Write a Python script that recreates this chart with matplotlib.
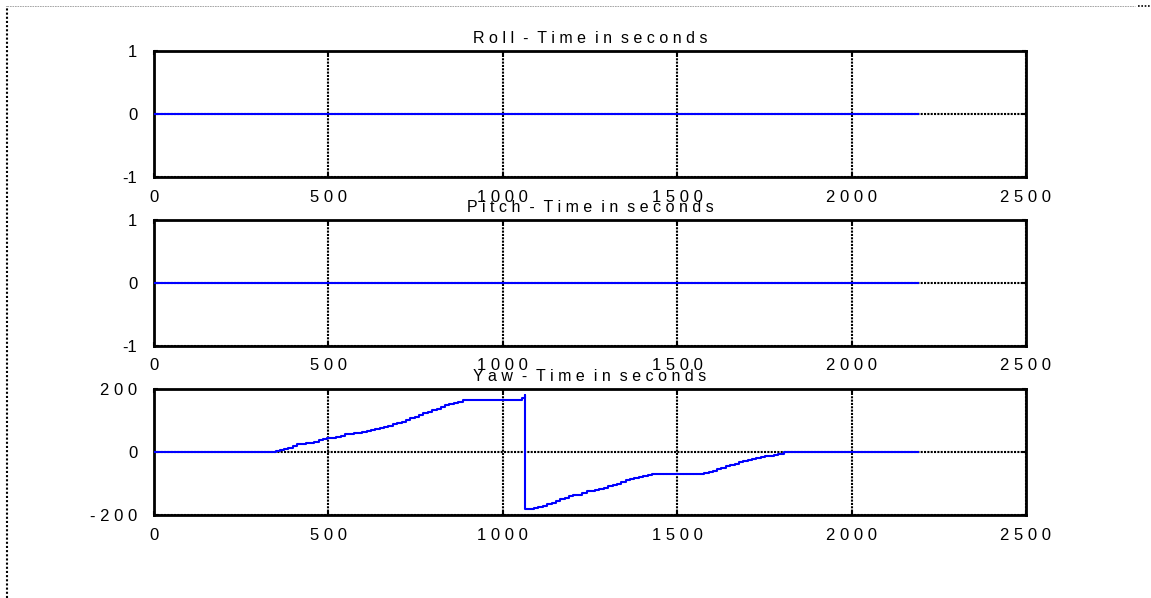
import numpy as np
import matplotlib
matplotlib.use('Agg')
import matplotlib.pyplot as plt
from matplotlib.lines import Line2D

plt.rcParams['font.family'] = ['Liberation Sans', 'DejaVu Sans']

# data
t_end = 2190
roll_t = [0, t_end]
roll_v = [0, 0]
pitch_t = [0, t_end]
pitch_v = [0, 0]

yaw_t = [0, 340, 350, 360, 372, 385, 398, 410, 422, 435, 447, 460, 472, 485, 497,
         510, 522, 535, 547, 560, 572, 585, 597, 610, 622, 635, 647, 660, 672,
         685, 697, 710, 722, 735, 747, 760, 772, 785, 797, 810, 822, 835, 847,
         860, 872, 885, 1040, 1055, 1064, 1065,
         1077, 1090, 1102, 1115, 1127, 1140, 1152, 1165, 1177, 1190, 1202, 1215,
         1227, 1240, 1252, 1265, 1277, 1290, 1302, 1315, 1327, 1340, 1352, 1365,
         1377, 1390, 1402, 1415, 1427, 1440, 1565, 1577, 1590, 1602, 1615, 1627,
         1640, 1652, 1665, 1677, 1690, 1702, 1715, 1727, 1740, 1752, 1765, 1777,
         1790, 1805, t_end]
yaw_v = [0, 0, 4, 6, 8, 12, 20, 24, 26, 28, 30, 33, 37, 40, 43,
         45, 48, 52, 56, 58, 59, 60, 63, 66, 69, 73, 76, 80, 84,
         88, 92, 96, 101, 107, 112, 118, 123, 128, 133, 138, 143, 148, 152,
         155, 160, 166, 166, 172, 180, -182,
         -180, -178, -174, -170, -166, -162, -156, -150, -145, -141, -138, -135,
         -130, -125, -123, -120, -117, -113, -109, -105, -100, -95, -90, -85,
         -81, -78, -75, -72, -71, -70, -70, -67, -64, -60, -55, -50,
         -46, -42, -38, -33, -28, -25, -22, -19, -17, -14, -12, -10,
         -5, 0, 0]

titles = ['Roll - Time in seconds', 'Pitch - Time in seconds', 'Yaw - Time in seconds']
x_ticks = [0, 500, 1000, 1500, 2000, 2500]
y_lims = [(-1, 1), (-1, 1), (-200, 200)]
y_ticks = [[-1, 0, 1], [-1, 0, 1], [-200, 0, 200]]


def spaced(s):
    if len(s) <= 2:
        return s
    return ' '.join(list(s)).replace('   ', '  ')


W, H = 1151, 598
fig = plt.figure(figsize=(W / 100, H / 100), dpi=100)

# axes boxes in pixels: left, top, right, bottom
boxes = [(154, 51, 1026, 177), (154, 220, 1026, 346), (154, 389, 1026, 515)]
series = [(roll_t, roll_v), (pitch_t, pitch_v), (yaw_t, yaw_v)]

for i, (l, t, r, b) in enumerate(boxes):
    ax = fig.add_axes([l / W, 1 - b / H, (r - l) / W, (b - t) / H])
    ax.set_xlim(0, 2500)
    ax.set_ylim(*y_lims[i])
    ax.set_xticks(x_ticks)
    ax.set_xticklabels([spaced(str(v)) for v in x_ticks])
    ax.set_yticks(y_ticks[i])
    ax.set_yticklabels([spaced(str(v)) for v in y_ticks[i]])
    ax.grid(True, color='black', linestyle=(0, (1, 0.6)), linewidth=1.5)
    ax.set_axisbelow(True)
    tt, vv = series[i]
    ax.plot(tt, vv, color='#0000ff', linewidth=1.5, drawstyle='steps-post', zorder=3)
    for s in ax.spines.values():
        s.set_linewidth(2)
        s.set_color('black')
    ax.tick_params(direction='in', length=3, width=1.5, top=True, right=True,
                   labelsize=12, pad=9, colors='black')
    ax.tick_params(axis='y', pad=12)
    ax.set_title(spaced(titles[i]), fontsize=11.5, pad=6)

# dotted frame remnants
fig.add_artist(Line2D([7 / W, 7 / W], [0, 1 - 6 / H], color='black',
                      linestyle=(0, (1, 1)), linewidth=1.5))
fig.add_artist(Line2D([7 / W, 1135 / W], [1 - 6 / H, 1 - 6 / H], color='#999999',
                      linestyle=(0, (2, 1)), linewidth=0.6))
fig.add_artist(Line2D([1138 / W, 1151 / W], [1 - 6 / H, 1 - 6 / H], color='black',
                      linestyle=(0, (1, 1)), linewidth=1.2))

fig.savefig('out.png', dpi=100)
